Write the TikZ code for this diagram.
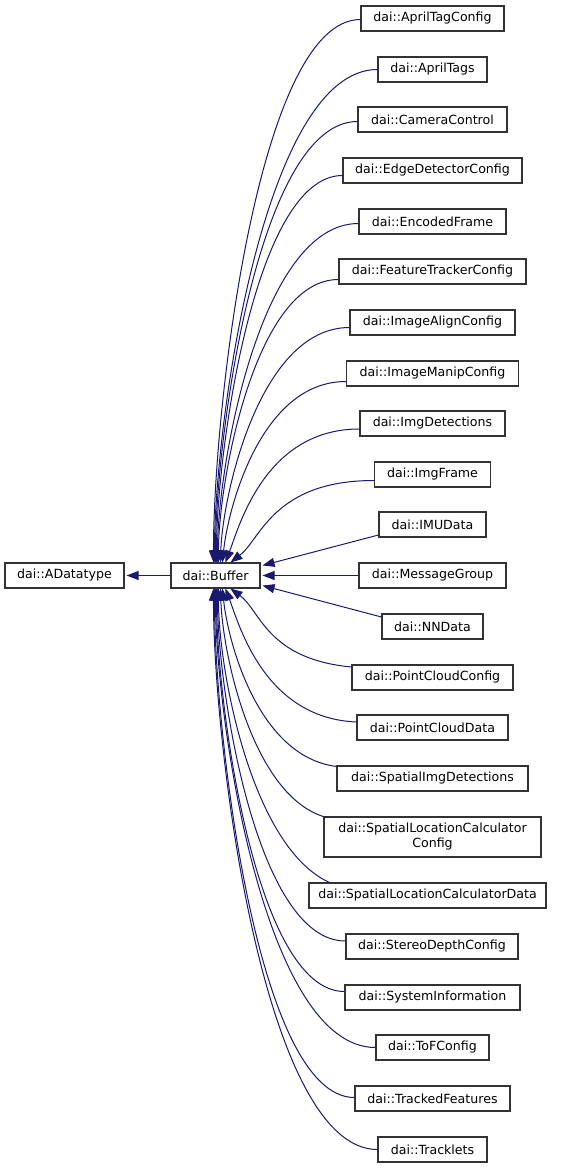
\documentclass[tikz,border=0pt]{standalone}
\usepackage{fontspec}
\setmainfont{DejaVu Sans}
\usetikzlibrary{arrows.meta,calc}
\definecolor{edgec}{HTML}{191970}
\definecolor{boxc}{HTML}{333333}
% #1 start, #2 tip, #3 c1 y offset (towards buffer), #4 c2 x offset
\newcommand\bedge[4]{%
  \draw[edge] let \p1=(#1), \p2=(#2) in
    (\p1) .. controls ({\x1-0.7*(\x1-\x2)},{\y1+#3}) and ({\x2+#4},{\y2+0.28*(\y1-\y2)}) .. (\p2);}
\begin{document}
\begin{tikzpicture}[x=1pt,y=-1pt,
  cls/.style={draw=boxc, line width=1.1pt, fill=white, minimum height=25pt,
    inner xsep=1pt, inner ysep=0pt, font=\fontsize{12.6}{15}\selectfont,
    minimum width=#1},
  edge/.style={draw=edgec, line width=1pt, -{Triangle[length=12pt,width=9pt]}}]
\useasboundingbox (0,0) rectangle (561,1168);

\node[cls=119] (adt) at (64.5,575.5) {dai::ADatatype};
\node[cls=89]  (buf) at (215.5,575.5) {dai::Buffer};

\node[cls=143] (n1)  at (432.5,18.5)  {dai::AprilTagConfig};
\node[cls=109] (n2)  at (432.5,69.5)  {dai::AprilTags};
\node[cls=149] (n3)  at (432.5,119.5) {dai::CameraControl};
\node[cls=179] (n4)  at (432.5,170.5) {dai::EdgeDetectorConfig};
\node[cls=147] (n5)  at (432.5,221.5) {dai::EncodedFrame};
\node[cls=187] (n6)  at (432.5,271.5) {dai::FeatureTrackerConfig};
\node[cls=165] (n7)  at (432.5,322.5) {dai::ImageAlignConfig};
\node[cls=172] (n8)  at (432.5,373.5) {dai::ImageManipConfig};
\node[cls=145] (n9)  at (432.5,423.5) {dai::ImgDetections};
\node[cls=116] (n10) at (432.5,474.5) {dai::ImgFrame};
\node[cls=107] (n11) at (432.5,524.5) {dai::IMUData};
\node[cls=147] (n12) at (432.5,575.5) {dai::MessageGroup};
\node[cls=101] (n13) at (432.5,626.5) {dai::NNData};
\node[cls=161] (n14) at (432.5,677.5) {dai::PointCloudConfig};
\node[cls=151] (n15) at (432.5,727.5) {dai::PointCloudData};
\node[cls=191] (n16) at (432.5,778.5) {dai::SpatialImgDetections};
\node[cls=217, minimum height=40pt, align=center] (n17) at (432.5,837) {dai::SpatialLocationCalculator\\Config};
\node[cls=237] (n18) at (427.5,895.5) {dai::SpatialLocationCalculatorData};
\node[cls=172] (n19) at (432,946.5)   {dai::StereoDepthConfig};
\node[cls=175] (n20) at (432.5,997.5) {dai::SystemInformation};
\node[cls=113] (n21) at (432.5,1047.5){dai::ToFConfig};
\node[cls=155] (n22) at (432.5,1098.5){dai::TrackedFeatures};
\node[cls=109] (n23) at (432.5,1149.5){dai::Tracklets};

\draw[edge] (buf.west) -- ([xshift=2]adt.east);

\bedge{[yshift=-1]n1.west}{[xshift=43]buf.north west}{0}{0}
\bedge{n2.west}{[xshift=44]buf.north west}{0}{0}
\bedge{[yshift=-2]n3.west}{[xshift=45]buf.north west}{0}{0}
\bedge{[yshift=-5]n4.west}{[xshift=46]buf.north west}{0}{0}
\bedge{[yshift=-2]n5.west}{[xshift=47]buf.north west}{0}{0}
\bedge{[yshift=-8]n6.west}{[xshift=48]buf.north west}{0}{0}
\bedge{[yshift=-5]n7.west}{[xshift=50]buf.north west}{0}{2}
\bedge{[yshift=-8]n8.west}{[xshift=52]buf.north west}{0}{5}
\bedge{[yshift=-5.5]n9.west}{[xshift=55]buf.north west}{0}{14}
\bedge{[yshift=-6]n10.west}{[xshift=60]buf.north west}{0}{30}

\draw[edge] ([yshift=-10.5]n11.west) -- ([xshift=2,yshift=-3]buf.north east);
\draw[edge] (n12.west) -- ([xshift=2]buf.east);
\draw[edge] ([yshift=9.5]n13.west) -- ([xshift=2,yshift=3]buf.south east);

\bedge{[yshift=10.5]n14.west}{[xshift=60]buf.south west}{8}{30}
\bedge{[yshift=5.5]n15.west}{[xshift=55]buf.south west}{4}{14}
\bedge{[yshift=-1]n16.north west}{[xshift=52]buf.south west}{10}{5}
\bedge{[xshift=3,yshift=-1]n17.north west}{[xshift=50]buf.south west}{20}{2}
\bedge{[xshift=21]n18.north west}{[xshift=48]buf.south west}{35}{0}
\bedge{[yshift=5.5]n19.west}{[xshift=47]buf.south west}{0}{0}
\bedge{[yshift=6]n20.west}{[xshift=46]buf.south west}{0}{0}
\bedge{n21.west}{[xshift=45]buf.south west}{0}{0}
\bedge{[yshift=1]n22.west}{[xshift=44]buf.south west}{0}{0}
\bedge{n23.west}{[xshift=43]buf.south west}{0}{0}
\end{tikzpicture}
\end{document}
